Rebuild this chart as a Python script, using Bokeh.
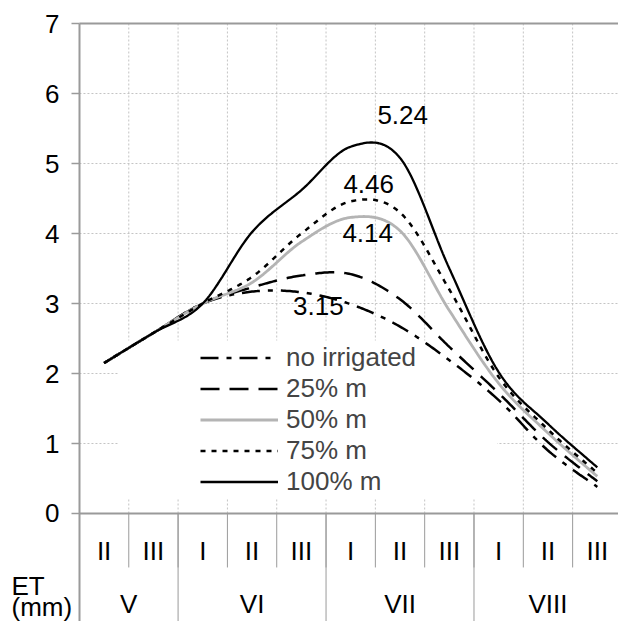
import numpy as np
from bokeh.plotting import figure
from bokeh.models import Range1d, FixedTicker, Legend, LegendItem, LinearAxis
from bokeh.core.properties import value
from bokeh.embed import file_html
from bokeh.resources import INLINE

# ---------------- data ----------------
months = ["V", "VI", "VII", "VIII"]
decades = ["II", "III", "I", "II", "III", "I", "II", "III", "I", "II", "III"]
decade_month = ["V", "V", "VI", "VI", "VI", "VII", "VII", "VII", "VIII", "VIII", "VIII"]

et_no_irrigated = [2.15, 2.58, 3.00, 3.17, 3.16, 2.99, 2.67, 2.19, 1.62, 0.90, 0.38]
et_25 = [2.15, 2.58, 3.00, 3.23, 3.40, 3.42, 3.06, 2.38, 1.72, 1.02, 0.46]
et_50 = [2.15, 2.58, 3.00, 3.30, 3.88, 4.23, 4.04, 2.90, 1.86, 1.15, 0.53]
et_75 = [2.15, 2.58, 3.00, 3.38, 4.00, 4.46, 4.30, 3.20, 1.95, 1.20, 0.58]
et_100 = [2.15, 2.58, 3.00, 4.02, 4.62, 5.24, 5.08, 3.50, 2.02, 1.28, 0.66]

series_names = ["no irrigated", "25% m", "50% m", "75% m", "100% m"]
peak_labels = ["5.24", "4.46", "4.14", "3.15"]
y_ticks = [0, 1, 2, 3, 4, 5, 6, 7]
axis_title = ["ET", "(mm)"]

FONT = "Liberation Sans"
FS = "26px"
GRID = "#c4c4c4"
AXIS = "#9a9a9a"

n = len(decades)
xc = [i + 0.5 for i in range(n)]
YMAX = y_ticks[-1]
YMIN_VIEW = -1.543


def smooth(xs, ys, steps=30):
    P = np.column_stack([np.asarray(xs, float), np.asarray(ys, float)])
    E = np.vstack([P[0], P, P[-1]])
    t = np.linspace(0, 1, steps, endpoint=False)[:, None]
    out = []
    for i in range(len(P) - 1):
        p0, p1, p2, p3 = E[i], E[i + 1], E[i + 2], E[i + 3]
        c1 = p1 + (p2 - p0) / 6.0
        c2 = p2 - (p3 - p1) / 6.0
        b = (1 - t) ** 3 * p1 + 3 * (1 - t) ** 2 * t * c1 + 3 * (1 - t) * t ** 2 * c2 + t ** 3 * p2
        out.append(b)
    out.append(P[-1:])
    r = np.vstack(out)
    return r[:, 0], r[:, 1]


W, H = 618, 621
XL, XR = -1.601, 10.93
p = figure(width=W, height=H, output_backend="svg", toolbar_location=None,
           x_range=Range1d(XL, XR), y_range=Range1d(YMIN_VIEW, 7.329),
           x_axis_location=None, y_axis_location=None,
           min_border_left=0, min_border_right=0,
           min_border_top=0, min_border_bottom=0)
p.outline_line_color = None
p.background_fill_color = "white"
p.xgrid.visible = False
p.ygrid.visible = False

# y axis drawn at x = 0 (category start)
ya = LinearAxis(fixed_location=0, ticker=FixedTicker(ticks=y_ticks), bounds=(YMIN_VIEW, YMAX))
ya.major_label_text_font = FONT
ya.major_label_text_font_size = FS
ya.major_label_text_color = "black"
ya.axis_line_color = AXIS
ya.axis_line_width = 2
ya.major_tick_line_color = AXIS
ya.major_tick_line_width = 1.5
ya.major_tick_out = 8
ya.major_tick_in = 0
ya.minor_tick_line_color = None
ya.major_label_standoff = 12
p.add_layout(ya, "left")

# gridlines
hg = y_ticks[1:-1]
p.segment(x0=[0] * len(hg), y0=hg, x1=[XR] * len(hg), y1=hg,
          line_color=GRID, line_dash="2 2", line_width=1)
bounds = list(range(1, n))
p.segment(x0=bounds, y0=[0] * len(bounds), x1=bounds, y1=[YMAX] * len(bounds),
          line_color=GRID, line_dash="2 2", line_width=1)

# white box behind legend
p.quad(left=[0.79], right=[8.47], bottom=[0.214], top=[2.47],
       fill_color="white", line_color=None)

# top border and x axis line
p.segment(x0=[0, 0], y0=[YMAX, 0], x1=[XR, XR], y1=[YMAX, 0], line_color=AXIS, line_width=2)

# category separators under the axis
p.segment(x0=bounds, y0=[0] * len(bounds), x1=bounds, y1=[-0.771] * len(bounds),
          line_color=AXIS, line_width=1)
grp_bounds = [i for i in range(1, n) if decade_month[i] != decade_month[i - 1]]
p.segment(x0=grp_bounds, y0=[0] * len(grp_bounds), x1=grp_bounds, y1=[YMIN_VIEW] * len(grp_bounds),
          line_color=AXIS, line_width=1)

# category labels
p.text(x=xc, y=[-0.53] * n, text=decades, text_font=value(FONT), text_font_size=FS,
       text_align="center", text_baseline="middle", text_color="black")
gx = []
for m in months:
    idx = [i for i in range(n) if decade_month[i] == m]
    gx.append((min(idx) + max(idx)) / 2 + 0.5)
p.text(x=gx, y=[-1.286] * len(months), text=months, text_font=value(FONT), text_font_size=FS,
       text_align="center", text_baseline="middle", text_color="black")

# axis title at bottom-left
p.text(x=[-1.378, -1.378], y=[-1.030, -1.330], text=axis_title, text_font=value(FONT),
       text_font_size=FS, text_align="left", text_baseline="alphabetic", text_color="black")

# series
styles = [
    dict(line_color="black", line_width=2.5, line_dash="18 8 5 8"),
    dict(line_color="black", line_width=2.5, line_dash="19 10"),
    dict(line_color="#b4b4b4", line_width=2.8),
    dict(line_color="black", line_width=2.5, line_dash="5 6"),
    dict(line_color="black", line_width=2.3),
]
series = [et_no_irrigated, et_25, et_50, et_75, et_100]
renderers = []
for ys, st in zip(series, styles):
    sx, sy = smooth(xc, ys)
    renderers.append(p.line(sx, sy, **st))

legend = Legend(items=[LegendItem(label=nm, renderers=[r]) for nm, r in zip(series_names, renderers)],
                location=(200, 124), padding=0, margin=0, spacing=0,
                glyph_width=78, glyph_height=31, label_height=31, label_standoff=8,
                label_text_font=FONT, label_text_font_size=FS,
                background_fill_alpha=0, border_line_alpha=0)
p.add_layout(legend)

# value labels
lab_series = [et_100, et_75, et_50, et_no_irrigated]
lab_idx = [5, 5, 5, 4]
lab_dx = [52, 18, 17, 17]
lab_dy = [-32, -17, 16, 14]
p.text(x=[xc[i] for i in lab_idx], y=[s[i] for s, i in zip(lab_series, lab_idx)],
       text=peak_labels, x_offset=lab_dx, y_offset=lab_dy,
       text_font=value(FONT), text_font_size=FS, text_align="center",
       text_baseline="middle", text_color="black")

open("out.html", "w").write(file_html(p, INLINE))
